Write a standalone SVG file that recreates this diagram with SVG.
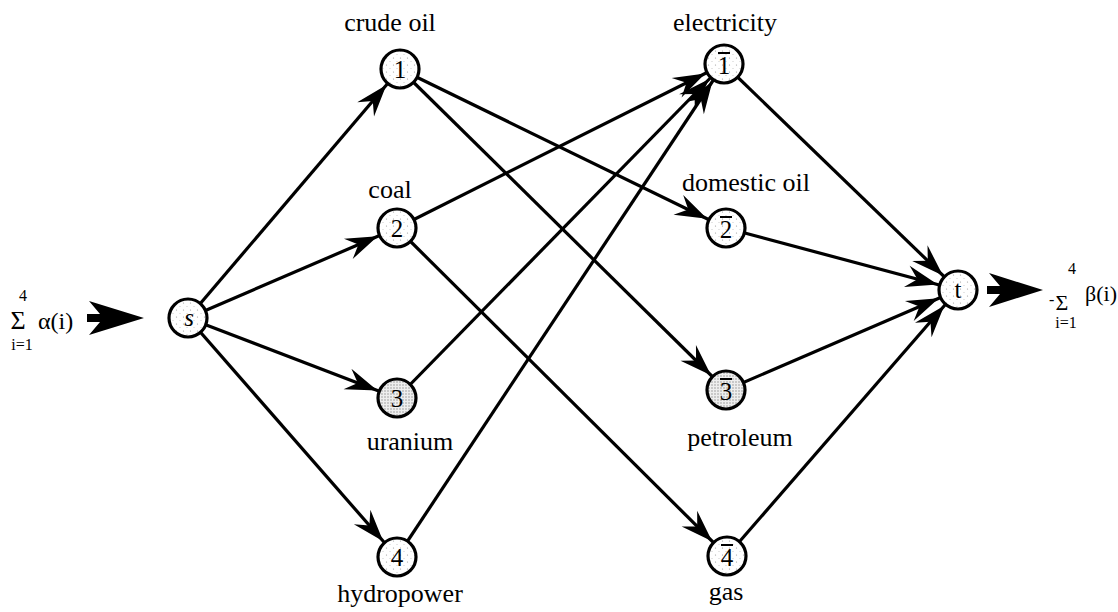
<svg xmlns="http://www.w3.org/2000/svg" width="1118" height="612" viewBox="0 0 1118 612">
  <style>
    .lbl { font-family: "Liberation Serif", "Times New Roman", serif; font-size: 26px; fill: #000; text-anchor: middle; }
    .num { font-family: "Liberation Serif", "Times New Roman", serif; font-size: 25px; fill: #000; text-anchor: middle; }
    .node circle { stroke: #000; stroke-width: 3.2; fill: url(#stipple); }
    .node.dense circle { fill: url(#stippleDense); }
    .bar { stroke: #000; stroke-width: 2; }
    .edge { stroke: #000; stroke-width: 3.2; fill: none; marker-end: url(#head); }
    .math { font-family: "Liberation Serif", "Times New Roman", serif; fill: #000; }
  </style>
  <defs>
    <pattern id="stipple" width="7" height="7" patternUnits="userSpaceOnUse">
      <rect width="7" height="7" fill="#fff"/>
      <circle cx="1.5" cy="2" r="0.6" fill="#999"/>
      <circle cx="5" cy="5.5" r="0.5" fill="#bbb"/>
    </pattern>
    <pattern id="stippleDense" width="3" height="3" patternUnits="userSpaceOnUse">
      <rect width="3" height="3" fill="#eee"/>
      <circle cx="1" cy="1" r="0.7" fill="#888"/>
    </pattern>
    <!-- barbed head; tip sits 21px before the line end (node radius + stroke) -->
    <marker id="head" viewBox="-56 -14 56 28" refX="0" refY="0" markerWidth="56" markerHeight="28" markerUnits="userSpaceOnUse" orient="auto">
      <path d="M-21,0 L-53,-11 L-42,0 L-53,11 Z" fill="#000"/>
    </marker>
  </defs>

  <!-- supply / demand -->
  <g id="supply">
    <text class="math" x="23" y="301" font-size="16" text-anchor="middle">4</text>
    <text class="math" x="18" y="329" font-size="26" text-anchor="middle">Σ</text>
    <text class="math" x="22" y="350" font-size="16" text-anchor="middle">i=1</text>
    <text class="math" x="38" y="329" font-size="24">α(i)</text>
    <polygon points="89,301 144,318 89,335 100,322 87,322 87,314 100,314" fill="#000"/>
  </g>
  <g id="demand">
    <polygon points="989,273 1043,290 989,307 1000,294 987,294 987,286 1000,286" fill="#000"/>
    <text class="math" x="1049" y="305" font-size="16">-</text>
    <text class="math" x="1062" y="310" font-size="22" text-anchor="middle">Σ</text>
    <text class="math" x="1072" y="274" font-size="16" text-anchor="middle">4</text>
    <text class="math" x="1066" y="328" font-size="16" text-anchor="middle">i=1</text>
    <text class="math" x="1085" y="301" font-size="22">β(i)</text>
  </g>

  <g id="connectors">
    <line class="edge" x1="188" y1="318" x2="400" y2="69"/>
    <line class="edge" x1="188" y1="318" x2="397" y2="228"/>
    <line class="edge" x1="188" y1="318" x2="397" y2="398"/>
    <line class="edge" x1="188" y1="318" x2="397" y2="557"/>
    <line class="edge" x1="400" y1="69" x2="726" y2="228"/>
    <line class="edge" x1="400" y1="69" x2="726" y2="390"/>
    <line class="edge" x1="397" y1="228" x2="724" y2="64"/>
    <line class="edge" x1="397" y1="228" x2="727" y2="556"/>
    <line class="edge" x1="397" y1="398" x2="724" y2="64"/>
    <line class="edge" x1="397" y1="557" x2="724" y2="64"/>
    <line class="edge" x1="724" y1="64" x2="958" y2="290"/>
    <line class="edge" x1="726" y1="228" x2="958" y2="290"/>
    <line class="edge" x1="726" y1="390" x2="958" y2="290"/>
    <line class="edge" x1="727" y1="556" x2="958" y2="290"/>
  </g>

  <g id="node-s" class="node">
    <circle cx="188" cy="318" r="19"/>
    <text class="num" x="189" y="326" font-style="italic">s</text>
  </g>
  <g id="node-1" class="node">
    <circle cx="400" cy="69" r="19"/>
    <text class="num" x="400" y="78">1</text>
    <text class="lbl" x="390" y="31">crude oil</text>
  </g>
  <g id="node-2" class="node">
    <circle cx="397" cy="228" r="19"/>
    <text class="num" x="397" y="237">2</text>
    <text class="lbl" x="390" y="198">coal</text>
  </g>
  <g id="node-3" class="node dense">
    <circle cx="397" cy="398" r="19"/>
    <text class="num" x="397" y="407">3</text>
    <text class="lbl" x="410" y="450">uranium</text>
  </g>
  <g id="node-4" class="node">
    <circle cx="397" cy="557" r="19"/>
    <text class="num" x="397" y="566">4</text>
    <text class="lbl" x="400" y="602">hydropower</text>
  </g>
  <g id="node-1bar" class="node">
    <circle cx="724" cy="64" r="19"/>
    <line class="bar" x1="718" y1="53" x2="730" y2="53"/>
    <text class="num" x="724" y="74">1</text>
    <text class="lbl" x="725" y="31">electricity</text>
  </g>
  <g id="node-2bar" class="node">
    <circle cx="726" cy="228" r="19"/>
    <line class="bar" x1="720" y1="217" x2="732" y2="217"/>
    <text class="num" x="726" y="238">2</text>
    <text class="lbl" x="746" y="191">domestic oil</text>
  </g>
  <g id="node-3bar" class="node dense">
    <circle cx="726" cy="390" r="19"/>
    <line class="bar" x1="720" y1="379" x2="732" y2="379"/>
    <text class="num" x="726" y="400">3</text>
    <text class="lbl" x="740" y="446">petroleum</text>
  </g>
  <g id="node-4bar" class="node">
    <circle cx="727" cy="556" r="19"/>
    <line class="bar" x1="721" y1="545" x2="733" y2="545"/>
    <text class="num" x="727" y="566">4</text>
    <text class="lbl" x="726" y="600">gas</text>
  </g>
  <g id="node-t" class="node">
    <circle cx="958" cy="290" r="19"/>
    <text class="num" x="958" y="298">t</text>
  </g>
</svg>
